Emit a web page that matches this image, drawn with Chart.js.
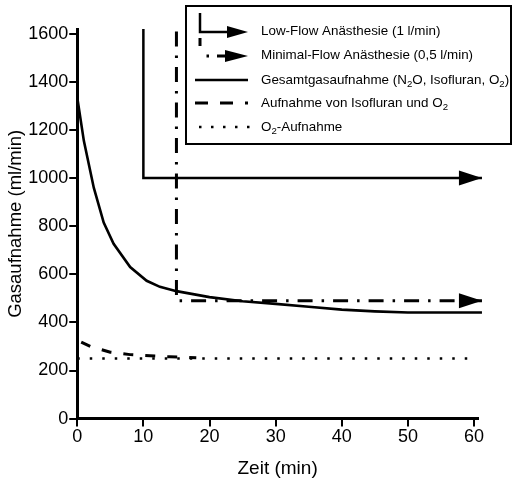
<!DOCTYPE html>
<html>
<head>
<meta charset="utf-8">
<script src="https://cdn.jsdelivr.net/npm/chart.js@4/dist/chart.umd.min.js"></script>
<style>
  html, body { margin: 0; padding: 0; background: #fff; }
</style>
</head>
<body>
<canvas id="uptakeChart" width="513" height="482"></canvas>
<script>
// --- Data ---
const totalTime   = [0, 1, 2.5, 4, 5.5, 8, 10.5, 12.5, 15, 20, 25, 30, 35, 40, 45, 50, 55, 61.2];
const totalUptake = [1335, 1155, 960, 815, 727, 630, 573, 548, 530, 505, 488, 477, 465, 453, 446, 441, 441, 441];

const isoO2Time   = [0.6, 2, 5, 8, 11, 14, 18];
const isoO2Uptake = [318, 300, 276, 266, 261, 257, 253];

const o2Time   = [0, 60];
const o2Uptake = [250, 250];

// flow switch markers: start of low flow at 10 min, minimal flow at 15 min
const lowFlowTime  = [10, 10, 61.2];
const lowFlowLevel = [1620, 1000, 1000];
const minFlowTime  = [15, 15, 61.2];
const minFlowLevel = [1610, 490, 490];

const xTicks = [0, 10, 20, 30, 40, 50, 60];
const yTicks = [0, 200, 400, 600, 800, 1000, 1200, 1400, 1600];

const legendLabels = [
    'Low-Flow Anästhesie (1 l/min)',
    'Minimal-Flow Anästhesie (0,5 l/min)',
    'Gesamtgasaufnahme (N₂O, Isofluran, O₂)',
    'Aufnahme von Isofluran und O₂',
    'O₂-Aufnahme'
];

const FONT = "'Liberation Sans', Arial, Helvetica, sans-serif";
Chart.defaults.font.family = FONT;
Chart.defaults.color = '#000';

const toPoints = (xs, ys) => xs.map((x, i) => ({ x: x, y: ys[i] }));

// --- Plugins ---

// filled triangle at the end of the flow marker lines
const arrowHeads = {
    id: 'arrowHeads',
    afterDatasetsDraw(chart) {
        const ctx = chart.ctx;
        chart.data.datasets.forEach((ds, i) => {
            if (!ds.arrow) return;
            const pts = chart.getDatasetMeta(i).data;
            const tip = pts[pts.length - 1];
            const prev = pts[pts.length - 2];
            const ang = Math.atan2(tip.y - prev.y, tip.x - prev.x);
            ctx.save();
            ctx.translate(tip.x, tip.y);
            ctx.rotate(ang);
            ctx.beginPath();
            ctx.moveTo(0, 0);
            ctx.lineTo(-23, -7.5);
            ctx.lineTo(-23, 7.5);
            ctx.closePath();
            ctx.fillStyle = '#000';
            ctx.fill();
            ctx.restore();
        });
    }
};

// text with the '₂' drawn as a lowered small digit
function drawSubText(ctx, text, x, y, size) {
    let cx = x;
    text.split(/(₂)/).forEach(part => {
        if (!part) return;
        if (part === '₂') {
            ctx.font = `${size * 0.72}px ${FONT}`;
            ctx.fillText('2', cx, y + size * 0.32);
            cx += ctx.measureText('2').width;
        } else {
            ctx.font = `${size}px ${FONT}`;
            ctx.fillText(part, cx, y);
            cx += ctx.measureText(part).width;
        }
    });
}

function drawTriangle(ctx, tipX, y, len, half) {
    ctx.beginPath();
    ctx.moveTo(tipX, y);
    ctx.lineTo(tipX - len, y - half);
    ctx.lineTo(tipX - len, y + half);
    ctx.closePath();
    ctx.fill();
}

// framed legend in the upper right corner
const boxLegend = {
    id: 'boxLegend',
    afterDraw(chart) {
        const ctx = chart.ctx;
        const left = 186, top = 6, w = 325, h = 138;
        const rows = [31, 55, 80, 103, 127];
        ctx.save();
        ctx.fillStyle = '#fff';
        ctx.fillRect(left, top, w, h);
        ctx.strokeStyle = '#000';
        ctx.fillStyle = '#000';
        ctx.lineWidth = 2;
        ctx.strokeRect(left, top, w, h);

        // low flow symbol
        ctx.lineWidth = 2.5;
        ctx.beginPath();
        ctx.moveTo(200, 13);
        ctx.lineTo(200, rows[0] + 1);
        ctx.lineTo(230, rows[0] + 1);
        ctx.stroke();
        drawTriangle(ctx, 248, rows[0] + 1, 21, 6);

        // minimal flow symbol
        ctx.lineWidth = 3;
        ctx.beginPath();
        ctx.moveTo(200, 38);
        ctx.lineTo(200, 46);
        ctx.moveTo(206.5, rows[1] + 1);
        ctx.lineTo(209, rows[1] + 1);
        ctx.moveTo(217, rows[1] + 1);
        ctx.lineTo(228, rows[1] + 1);
        ctx.stroke();
        drawTriangle(ctx, 248, rows[1] + 1, 23, 6);

        // total uptake
        ctx.lineWidth = 2.5;
        ctx.beginPath();
        ctx.moveTo(195, rows[2]);
        ctx.lineTo(248, rows[2]);
        ctx.stroke();

        // isoflurane + O2
        ctx.lineWidth = 3;
        ctx.setLineDash([13, 12]);
        ctx.beginPath();
        ctx.moveTo(195, rows[3]);
        ctx.lineTo(248, rows[3]);
        ctx.stroke();

        // O2
        ctx.lineWidth = 2.5;
        ctx.setLineDash([2.5, 9.5]);
        ctx.beginPath();
        ctx.moveTo(199, rows[4]);
        ctx.lineTo(250, rows[4]);
        ctx.stroke();
        ctx.setLineDash([]);

        ctx.textBaseline = 'middle';
        ctx.textAlign = 'left';
        legendLabels.forEach((label, i) => drawSubText(ctx, label, 261, rows[i], 13.4));
        ctx.restore();
    }
};

// --- Chart ---
const ctx = document.getElementById('uptakeChart').getContext('2d');
new Chart(ctx, {
    type: 'line',
    data: {
        datasets: [
            {
                label: legendLabels[0],
                data: toPoints(lowFlowTime, lowFlowLevel),
                borderWidth: 2.5,
                arrow: true
            },
            {
                label: legendLabels[1],
                data: toPoints(minFlowTime, minFlowLevel),
                borderWidth: 3,
                borderDash: [15, 9, 2.5, 9],
                arrow: true
            },
            {
                label: legendLabels[2],
                data: toPoints(totalTime, totalUptake),
                borderWidth: 2.6
            },
            {
                label: legendLabels[3],
                data: toPoints(isoO2Time, isoO2Uptake),
                borderWidth: 3,
                borderDash: [10, 12]
            },
            {
                label: legendLabels[4],
                data: toPoints(o2Time, o2Uptake),
                borderWidth: 2.5,
                borderDash: [2.5, 10]
            }
        ].map(ds => Object.assign({
            borderColor: '#000',
            backgroundColor: '#000',
            pointRadius: 0,
            tension: 0,
            fill: false,
            clip: false
        }, ds))
    },
    options: {
        responsive: false,
        animation: false,
        layout: { padding: { left: 1, right: 35, top: 29, bottom: 1 } },
        plugins: {
            legend: { display: false },
            tooltip: { enabled: false }
        },
        scales: {
            x: {
                type: 'linear',
                min: 0,
                max: 60.6,
                afterBuildTicks: scale => { scale.ticks = xTicks.map(v => ({ value: v })); },
                ticks: { font: { size: 18 }, padding: 0, maxRotation: 0, callback: v => String(v) },
                grid: { display: true, drawOnChartArea: false, drawTicks: true, tickLength: 8, lineWidth: 2, color: '#000' },
                border: { display: true, width: 3, color: '#000' },
                title: { display: true, text: 'Zeit (min)', font: { size: 19 }, padding: { top: 9.5, bottom: 0.5 } }
            },
            y: {
                min: 0,
                max: 1620,
                afterBuildTicks: scale => { scale.ticks = yTicks.map(v => ({ value: v })); },
                ticks: { font: { size: 18 }, padding: 1, callback: v => String(v) },
                grid: { display: true, drawOnChartArea: false, drawTicks: true, tickLength: 8, lineWidth: 2, color: '#000' },
                border: { display: true, width: 3, color: '#000' },
                title: { display: true, text: 'Gasaufnahme (ml/min)', font: { size: 18.5 }, padding: { top: 4, bottom: 0 } }
            }
        }
    },
    plugins: [arrowHeads, boxLegend]
});
</script>
</body>
</html>
